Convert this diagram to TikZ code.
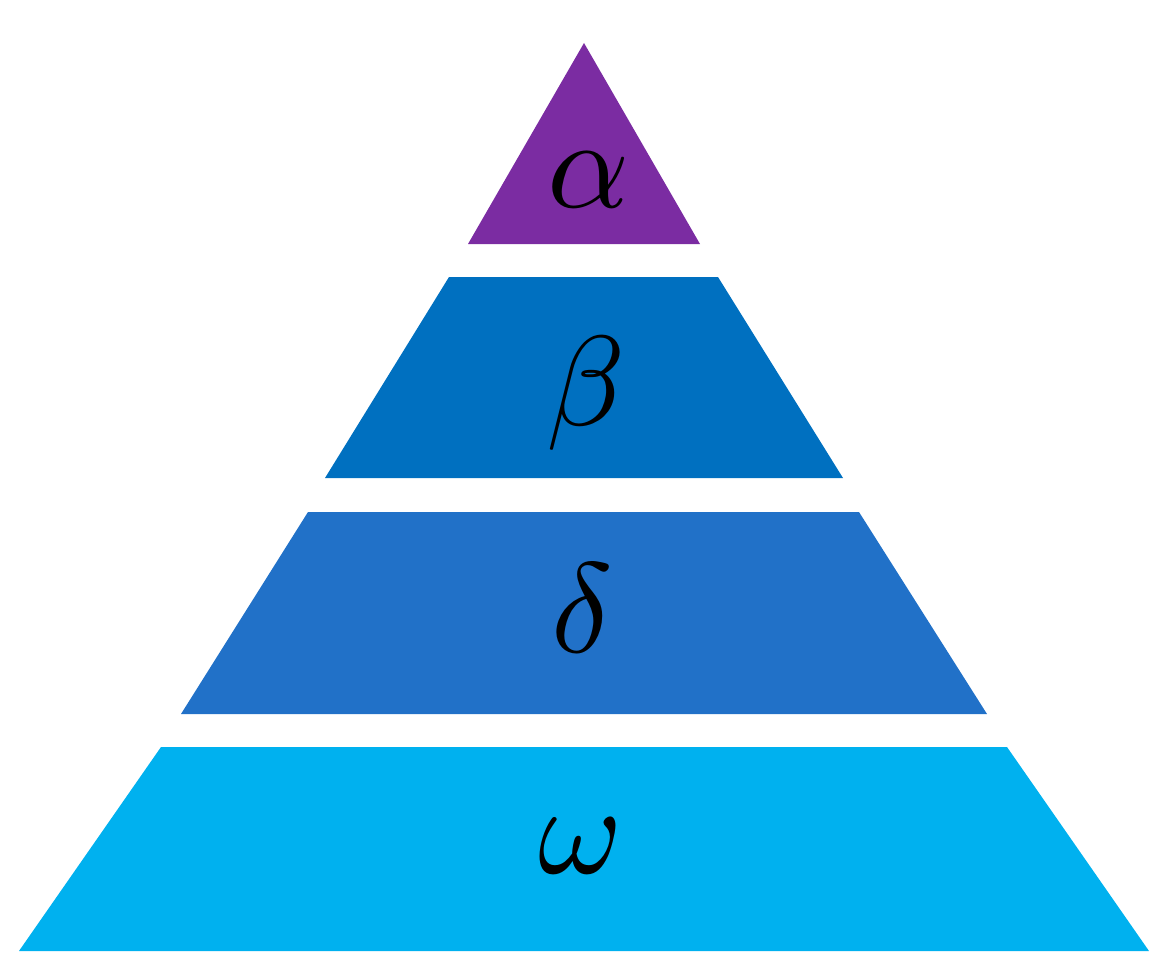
\documentclass[tikz,border=0pt]{standalone}
\definecolor{cpurple}{HTML}{7B2CA2}
\definecolor{cblue}{HTML}{0070C0}
\definecolor{cmid}{HTML}{2171C8}
\definecolor{clight}{HTML}{00B1EF}
\tikzset{
  lbl/.style={inner sep=0pt, scale=12.8, text=black}
}
\begin{document}
\begin{tikzpicture}[x=1pt,y=-1pt]
\useasboundingbox (0,0) rectangle (1176,979);
\fill[cpurple] (584,43) -- (700,244) -- (468,244) -- cycle;
\fill[cblue] (449,277) -- (718,277) -- (843,478) -- (325,478) -- cycle;
\fill[cmid] (308,512) -- (859,512) -- (987,714) -- (181,714) -- cycle;
\fill[clight] (161,747) -- (1007,747) -- (1149,951) -- (19,951) -- cycle;
\node[lbl] (a) at (589,180) {$\alpha$};
\node[lbl] (b) at (586,393) {$\beta$};
\node[lbl] (d) at (582,608) {$\delta$};
\node[lbl] (w) at (581,846) {$\omega$};
\end{tikzpicture}
\end{document}
